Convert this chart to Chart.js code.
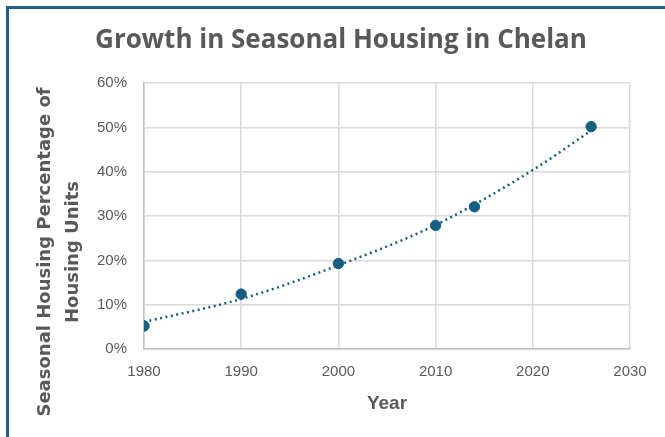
<!DOCTYPE html>
<html>
<head>
<meta charset="utf-8">
<script src="https://cdn.jsdelivr.net/npm/chart.js@4"></script>
<style>
  html, body { margin: 0; padding: 0; background: #fff; }
  #wrap { position: relative; width: 665px; height: 437px; }
  #frame {
    position: absolute; left: 6px; top: 6px; right: 0; bottom: 0;
    border-top: 3px solid #1b6487; border-left: 3px solid #1b6487;
    pointer-events: none;
  }
  canvas { position: absolute; left: 0; top: 0; }
</style>
</head>
<body>
<div id="wrap">
  <canvas id="chart" width="665" height="437"></canvas>
  <div id="frame"></div>
</div>
<script>
  // observed values
  const years = [1980, 1990, 2000, 2010, 2014, 2026];
  const seasonalPct = [5.2, 12.4, 19.3, 27.9, 32.1, 50.2];

  // trendline
  const trendYears = [1980, 1990, 2000, 2010, 2020, 2026];
  const trendPct = [6.1, 11.3, 18.9, 28.0, 40.4, 49.3];

  const xTicks = [1980, 1990, 2000, 2010, 2020, 2030];
  const yTitleLines = ["Seasonal Housing Percentage of", "Housing Units"];

  const grey = "#595959";
  const teal = "#175f82";

  function toPoints(xs, ys) {
    return xs.map((x, i) => ({ x: x, y: ys[i] }));
  }

  // y title sits lower than the plot centre, like Excel puts it
  const yTitlePlugin = {
    id: "yTitle",
    afterDraw(chart) {
      const ctx = chart.ctx;
      const cy = chart.chartArea.bottom - 97;
      ctx.save();
      ctx.fillStyle = grey;
      ctx.font = "bold 18px 'DejaVu Sans', sans-serif";
      ctx.textAlign = "center";
      ctx.textBaseline = "alphabetic";
      [50, 77.5].forEach((x, i) => {
        ctx.save();
        ctx.translate(x, cy);
        ctx.rotate(-Math.PI / 2);
        ctx.fillText(yTitleLines[i], 0, 0);
        ctx.restore();
      });
      ctx.restore();
    }
  };

  new Chart(document.getElementById("chart"), {
    type: "scatter",
    data: {
      datasets: [
        {
          label: "Seasonal housing",
          data: toPoints(years, seasonalPct),
          backgroundColor: teal,
          borderColor: teal,
          borderWidth: 1,
          pointRadius: 5.2,
          pointHoverRadius: 5.2,
          order: 1
        },
        {
          label: "Trend",
          data: toPoints(trendYears, trendPct),
          showLine: true,
          borderColor: teal,
          borderWidth: 2.5,
          borderDash: [2, 3.5],
          cubicInterpolationMode: "monotone",
          pointRadius: 0,
          fill: false,
          order: 2
        }
      ]
    },
    plugins: [yTitlePlugin],
    options: {
      responsive: false,
      animation: false,
      layout: { padding: { left: 52, right: 35, top: 0, bottom: 10 } },
      plugins: {
        legend: { display: false },
        tooltip: { enabled: false },
        title: {
          display: true,
          text: "Growth in Seasonal Housing in Chelan",
          color: grey,
          font: { family: "'Open Sans', sans-serif", size: 26, weight: "bold", lineHeight: 1.2 },
          padding: { top: 25, bottom: 27 }
        }
      },
      scales: {
        x: {
          type: "linear",
          min: 1980,
          max: 2030,
          afterBuildTicks: (axis) => { axis.ticks = xTicks.map(v => ({ value: v })); },
          afterFit: (axis) => { axis.height = 78; },
          ticks: {
            color: grey,
            font: { family: "'Liberation Sans', Arial, sans-serif", size: 15 },
            callback: (v) => String(v),
            padding: 14
          },
          grid: { color: "#d9d9d9", lineWidth: 1.5, drawTicks: false },
          border: { color: "#bfbfbf", width: 1.5 },
          title: {
            display: true,
            text: "Year",
            color: grey,
            font: { family: "'Liberation Sans', Arial, sans-serif", size: 19, weight: "bold", lineHeight: 1.2 },
            padding: { top: 0, bottom: 12 }
          }
        },
        y: {
          min: 0,
          max: 60,
          afterFit: (axis) => { axis.width = 92; },
          ticks: {
            stepSize: 10,
            color: grey,
            font: { family: "'Liberation Sans', Arial, sans-serif", size: 15 },
            callback: (v) => v + "%",
            padding: 17
          },
          grid: { color: "#d9d9d9", lineWidth: 1.5, drawTicks: false },
          border: { color: "#bfbfbf", width: 1.5 },
          title: { display: false }
        }
      }
    }
  });
</script>
</body>
</html>
